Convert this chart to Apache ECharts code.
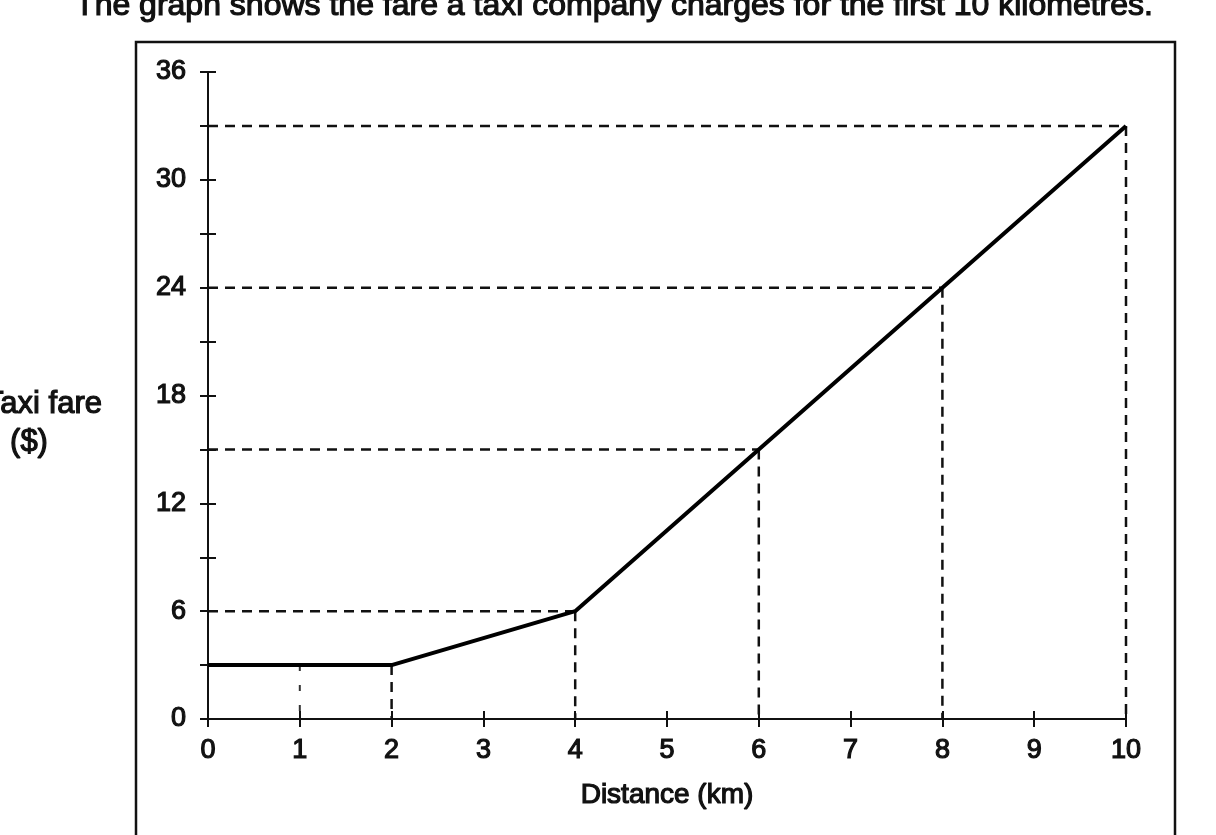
<!DOCTYPE html>
<html>
<head>
<meta charset="utf-8">
<script src="https://cdn.jsdelivr.net/npm/echarts@6/dist/echarts.min.js"></script>
<style>
  html, body { margin: 0; padding: 0; background: #fff; }
  #main { width: 1216px; height: 835px; }
</style>
</head>
<body>
<div id="main"></div>
<script>
// 数据
const distance = [0, 2, 4, 6, 8, 10]
const fare = [3, 3, 6, 15, 24, 33]
// 竖直虚线 (x, 顶端 y)
const dropX = [1, 2, 4, 6, 8, 10]
const dropY = [3, 3, 6, 15, 24, 33]
// 水平虚线 (y, 右端 x)
const levelY = [6, 15, 24, 33]
const levelX = [4, 6, 8, 10]

const FONT = 'Liberation Sans, Arial, sans-serif'
const INK = '#111'
// 扫描件文字偏粗，用细描边加粗
const thick = { textBorderColor: INK, textBorderWidth: 1.2 }
const dashStyle = { color: INK, width: 2.5, type: [10, 7] }

const guides = []
dropX.forEach((x, i) => {
  guides.push({
    type: 'line', silent: true, symbol: 'none',
    lineStyle: i === 0 ? { color: '#333', width: 2, type: [6, 14] } : dashStyle,
    data: [[x, dropY[i]], [x, 0]]
  })
})
levelY.forEach((y, i) => {
  guides.push({
    type: 'line', silent: true, symbol: 'none', lineStyle: dashStyle,
    data: [[0, y], [levelX[i], y]]
  })
})

var myChart = echarts.init(document.getElementById('main'))
myChart.setOption({
  animation: false,
  grid: { left: 208, right: 90, top: 72, bottom: 116 },
  xAxis: [
    {
      type: 'value', min: 0, max: 10, interval: 1,
      name: 'Distance (km)', nameLocation: 'middle', nameGap: 62,
      nameTextStyle: Object.assign({ color: INK, fontSize: 28, fontFamily: FONT }, thick),
      axisLine: { lineStyle: { color: INK, width: 2 } },
      axisTick: { length: 8, lineStyle: { color: INK, width: 2 } },
      axisLabel: Object.assign({ color: INK, fontSize: 27, fontFamily: FONT, margin: 18 }, thick),
      splitLine: { show: false }
    },
    {
      type: 'value', min: 0, max: 10, interval: 1, position: 'bottom',
      axisLine: { show: false },
      axisTick: { inside: true, length: 8, lineStyle: { color: INK, width: 2 } },
      axisLabel: { show: false }, splitLine: { show: false }
    }
  ],
  yAxis: [
    {
      type: 'value', min: 0, max: 36, interval: 3,
      axisLine: { show: true, lineStyle: { color: INK, width: 2 } },
      axisTick: { show: true, length: 8, lineStyle: { color: INK, width: 2 } },
      axisLabel: Object.assign({
        color: INK, fontSize: 27, fontFamily: FONT, margin: 22,
        formatter: (v) => (v % 6 === 0 ? v : '')
      }, thick),
      splitLine: { show: false }
    },
    {
      type: 'value', min: 0, max: 36, interval: 3, position: 'left',
      axisLine: { show: false },
      axisTick: { show: true, inside: true, length: 8, lineStyle: { color: INK, width: 2 } },
      axisLabel: { show: false }, splitLine: { show: false }
    }
  ],
  graphic: [
    {
      type: 'rect', silent: true,
      shape: { x: 136, y: 42, width: 1039, height: 900 },
      style: { fill: 'none', stroke: INK, lineWidth: 2.5 }
    },
    {
      type: 'text', silent: true, x: 614, y: 22,
      style: {
        text: 'The graph shows the fare a taxi company charges for the first 10 kilometres.',
        font: '32px ' + FONT, fill: INK, stroke: INK, lineWidth: 1.2,
        align: 'center', verticalAlign: 'bottom'
      }
    },
    {
      type: 'text', silent: true, x: 102, y: 404,
      style: { text: 'Taxi fare', font: '31px ' + FONT, fill: INK, stroke: INK, lineWidth: 1.2, align: 'right', verticalAlign: 'middle' }
    },
    {
      type: 'text', silent: true, x: 29, y: 442,
      style: { text: '($)', font: '31px ' + FONT, fill: INK, stroke: INK, lineWidth: 1.2, align: 'center', verticalAlign: 'middle' }
    }
  ],
  series: guides.concat([
    {
      type: 'line', symbol: 'none', z: 5,
      lineStyle: { color: '#000', width: 4 },
      data: distance.map((d, i) => [d, fare[i]])
    }
  ])
})
</script>
</body>
</html>
